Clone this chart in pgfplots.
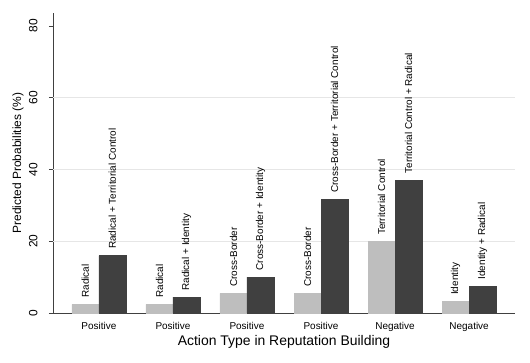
\documentclass[border=0pt]{standalone}
\usepackage{fontspec}
\setmainfont{Liberation Sans}
\usepackage{pgfplots}
\pgfplotsset{compat=1.18}
\usepackage{pgfplotstable}
\definecolor{lightbar}{HTML}{BEBEBE}
\definecolor{darkbar}{HTML}{404040}
\definecolor{gridc}{HTML}{E6E6E6}
\definecolor{axisc}{HTML}{404040}

\pgfplotstableread[col sep=comma]{
x,y,label
0,2.4,Radical
1,2.4,Radical
2,5.5,Cross-Border
3,5.5,Cross-Border
4,19.9,Territorial Control
5,3.2,Identity
}\singletable

\pgfplotstableread[col sep=comma]{
x,y,label
0,16.0,Radical + Territorial Control
1,4.4,Radical + Identity
2,10.0,Cross-Border + Identity
3,31.7,Cross-Border + Territorial Control
4,37.0,Territorial Control + Radical
5,7.5,Identity + Radical
}\combotable

\begin{document}
\begin{tikzpicture}
\begin{axis}[
  width=462bp, height=300bp, scale only axis,
  xmin=-0.62, xmax=5.62, ymin=0, ymax=83.6,
  axis x line=bottom, axis y line=left,
  axis line style={-, draw=axisc, line width=0.7pt},
  xtick={0,1,2,3,4,5},
  xticklabels={Positive,Positive,Positive,Positive,Negative,Negative},
  major x tick style={draw=none},
  xticklabel style={font=\fontsize{10}{12}\selectfont},
  xticklabel shift=2bp,
  ytick={0,20,40,60,80},
  tick align=outside,
  major tick length=4bp,
  y tick style={draw=axisc, line width=0.6pt},
  yticklabel style={rotate=90, anchor=south, font=\fontsize{12}{14}\selectfont},
  yticklabel shift=8bp,
  /pgf/number format/assume math mode=true,
  extra y ticks={20,40,60},
  extra y tick labels={},
  extra y tick style={grid=major, major tick length=0pt, grid style={gridc, line width=0.7pt}},
  ylabel={Predicted Probabilities (\%)},
  ylabel style={at={(axis description cs:-0.0758,0.5)}, anchor=center, font=\fontsize{12}{14}\selectfont},
  xlabel={Action Type in Reputation Building},
  xlabel style={at={(axis description cs:0.5,-0.0967)}, anchor=center, font=\fontsize{14}{16}\selectfont},
  ybar, bar width=27bp,
  nodes near coords,
  point meta=explicit symbolic,
  every node near coord/.append style={rotate=90, anchor=west, inner xsep=6.5bp, inner ysep=0pt, font=\fontsize{10}{12}\selectfont, text=black},
]
\addplot[fill=lightbar, draw=lightbar, bar shift=-13.5bp] table[x=x, y=y, meta=label] {\singletable};
\addplot[fill=darkbar, draw=darkbar, bar shift=13.5bp] table[x=x, y=y, meta=label] {\combotable};
\coordinate (bl) at (rel axis cs:0,0);
\coordinate (tr) at (rel axis cs:1,1);
\end{axis}
\pgfresetboundingbox
\path ([shift={(-53bp,-50bp)}]bl) rectangle ([shift={(15bp,13bp)}]tr);
\end{tikzpicture}
\end{document}
